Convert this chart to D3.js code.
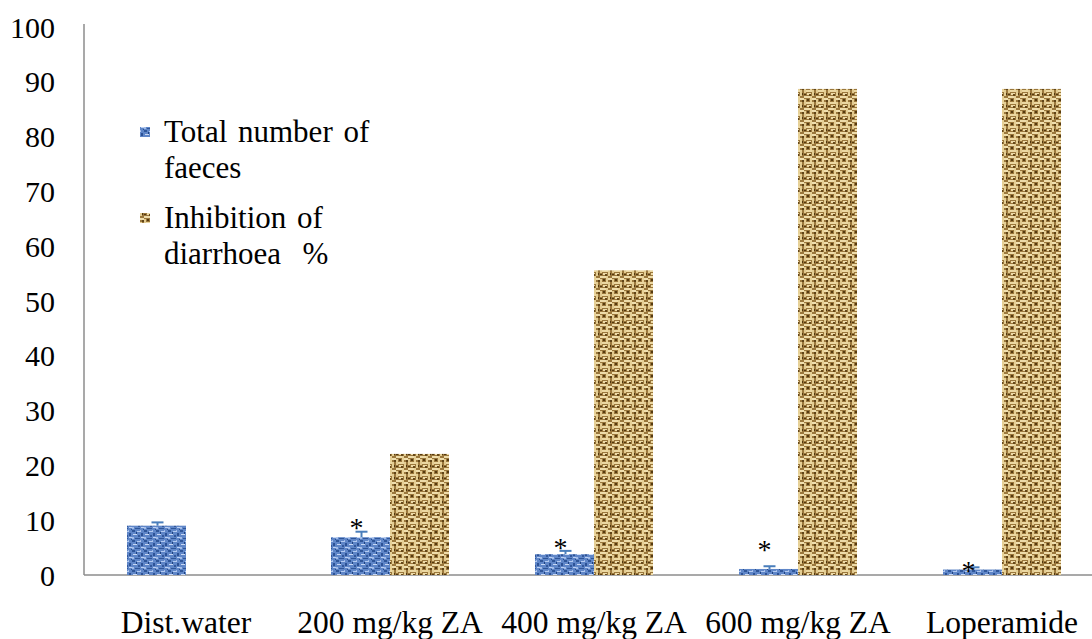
<!DOCTYPE html>
<html><head><meta charset="utf-8">
<script src="https://cdn.jsdelivr.net/npm/d3@7"></script>
</head><body style="margin:0;background:#fff"><svg id="c" width="1092" height="639" style="display:block"></svg>
<script>
const categories = ["Dist.water","200 mg/kg ZA","400 mg/kg ZA","600 mg/kg ZA","Loperamide"];
const faeces = [9.0, 6.9, 3.8, 1.1, 1.0];
const faecesErr = [0.6, 1.0, 0.6, 0.5, 0.4];
const inhibition = [0, 22.1, 55.6, 88.7, 88.7];
const starLevel = [null, 9.5, 5.8, 5.5, 1.6];
const yTicks = [0,10,20,30,40,50,60,70,80,90,100];
const seriesNames = [["Total number of","faeces"],["Inhibition of","diarrhoea  %"]];

const FONT = "Liberation Serif";
const svg = d3.select("#c");
const defs = svg.append("defs");
const pb = defs.append("pattern").attr("id","pBlue").attr("patternUnits","userSpaceOnUse").attr("width",12).attr("height",10);
pb.append("rect").attr("width",12).attr("height",10).attr("fill","#5f86c8");
[[0,0,3,2,"#2f5699"],[5,1,4,1,"#b3caf0"],[9,3,2,3,"#2c5296"],[1,4,4,1,"#c8d8f4"],[6,5,2,2,"#34599c"],[0,7,2,2,"#a2bce8"],[3,8,5,1,"#2f5699"],[9,7,3,1,"#bcd0f2"],[4,2,1,2,"#1f4280"],[8,0,1,1,"#9fb9e6"],[11,9,1,1,"#2a4f90"]].forEach(d=>pb.append("rect").attr("x",d[0]).attr("y",d[1]).attr("width",d[2]).attr("height",d[3]).attr("fill",d[4]));
const pw = defs.append("pattern").attr("id","pBrown").attr("patternUnits","userSpaceOnUse").attr("width",12).attr("height",12);
pw.append("rect").attr("width",12).attr("height",12).attr("fill","#9a773c");
[[0,0,6,2,"#eedcaa"],[6,0,2,6,"#e6d096"],[8,2,4,2,"#f0dfae"],[0,3,2,6,"#e2ca90"],[2,6,6,2,"#ecd8a2"],[8,6,2,6,"#e4ce94"],[3,9,4,2,"#eedba8"],[3,3,2,2,"#553a10"],[10,4,2,2,"#5f4418"],[5,10,2,2,"#664819"],[0,10,2,1,"#523810"],[10,9,1,2,"#523810"]].forEach(d=>pw.append("rect").attr("x",d[0]).attr("y",d[1]).attr("width",d[2]).attr("height",d[3]).attr("fill",d[4]));

const x0 = 84, yTop = 27, yBot = 575;
const x = d3.scaleBand().domain(categories).range([x0, 1104]);
const y = d3.scaleLinear().domain([0,100]).range([yBot, yTop]);
const bw = 59;

const gy = svg.append("g").attr("transform",`translate(${x0},0)`).call(d3.axisLeft(y).tickValues(yTicks).tickSize(0).tickFormat(""));
gy.select(".domain").attr("stroke","#8c8c8c").attr("stroke-width",1.5).attr("d",`M0,${yBot}V${yTop-3}`);
const gx = svg.append("g").attr("transform",`translate(0,${yBot})`).call(d3.axisBottom(x).tickSize(0).tickFormat(""));
gx.select(".domain").attr("stroke","#8c8c8c").attr("stroke-width",1.5).attr("d",`M${x0},0H1092`);

svg.append("g").selectAll("text").data(yTicks).join("text")
  .attr("x",x0-29).attr("y",d=>y(d)).attr("dy","0.35em").attr("text-anchor","end")
  .attr("font-size",30).attr("font-family",FONT).attr("fill","#000").text(d=>d);
svg.append("g").selectAll("text").data(categories).join("text")
  .attr("x",c=>x(c)+x.bandwidth()/2).attr("y",yBot+58).attr("text-anchor","middle")
  .attr("font-size",31.5).attr("font-family",FONT).attr("fill","#000").text(c=>c);

const cx = c => x(c) + x.bandwidth()/2;
svg.append("g").selectAll("rect").data(categories).join("rect")
  .attr("x",c=>cx(c)-bw).attr("width",bw)
  .attr("y",(c,i)=>y(faeces[i])).attr("height",(c,i)=>yBot-y(faeces[i]))
  .attr("fill","url(#pBlue)");
svg.append("g").selectAll("rect").data(categories).join("rect")
  .attr("x",c=>cx(c)).attr("width",bw)
  .attr("y",(c,i)=>y(inhibition[i])).attr("height",(c,i)=>yBot-y(inhibition[i]))
  .attr("fill","url(#pBrown)");
const eg = svg.append("g").attr("stroke","#4a7ebb").attr("stroke-width",2);
categories.forEach((c,i)=>{
  const xc = cx(c)-bw/2+1;
  eg.append("line").attr("x1",xc).attr("x2",xc).attr("y1",y(faeces[i])).attr("y2",y(faeces[i]+faecesErr[i]));
  eg.append("line").attr("x1",xc-6).attr("x2",xc+6).attr("y1",y(faeces[i]+faecesErr[i])).attr("y2",y(faeces[i]+faecesErr[i]));
});
svg.append("g").selectAll("text").data(categories.filter((c,i)=>starLevel[i]!==null)).join("text")
  .attr("x",c=>cx(c)-bw/2-4).attr("y",c=>y(starLevel[categories.indexOf(c)])+14)
  .attr("text-anchor","middle").attr("font-family",FONT).attr("font-size",28).attr("fill","#000").text("*");

const lg = svg.append("g");
const legY = [132, 218];
const fills = ["url(#pBlue)","url(#pBrown)"];
seriesNames.forEach((lines,i)=>{
  lg.append("rect").attr("x",140).attr("y",legY[i]-5).attr("width",10).attr("height",10).attr("fill",fills[i]);
  lines.forEach((t,j)=>lg.append("text").attr("x",164).attr("y",legY[i]+10+j*36).attr("font-family",FONT).attr("font-size",31).attr("word-spacing",3).attr("fill","#000").attr("xml:space","preserve").text(t));
});
</script></body></html>
